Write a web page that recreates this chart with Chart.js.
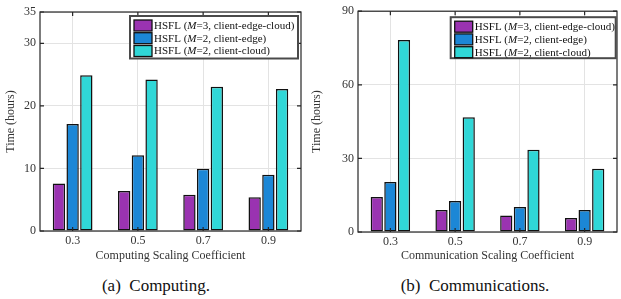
<!DOCTYPE html>
<html>
<head>
<meta charset="utf-8">
<script src="https://cdn.jsdelivr.net/npm/chart.js@4/dist/chart.umd.min.js"></script>
<style>
  html, body { margin: 0; padding: 0; background: #fff; }
  body { width: 621px; height: 299px; position: relative; overflow: hidden; font-family: "Liberation Serif", "DejaVu Serif", serif; }
  .panel { position: absolute; top: 0; height: 270px; }
  .cap { position: absolute; top: 276px; font-size: 17px; color: #111; white-space: nowrap; text-align: center; font-family: "Liberation Serif", "DejaVu Serif", serif; }
</style>
</head>
<body>
<div class="panel" id="pa" style="left:0;width:310px;"><canvas id="ca"></canvas></div>
<div class="panel" id="pb" style="left:310px;width:311px;"><canvas id="cb"></canvas></div>
<div class="cap" style="left:56px;width:200px;">(a)&nbsp; Computing.</div>
<div class="cap" style="left:375px;width:200px;">(b)&nbsp; Communications.</div>
<script>
// ---- data ----
const categories = ['0.3', '0.5', '0.7', '0.9'];
const seriesNames = [
  ['HSFL (', 'M', '=3, client-edge-cloud)'],
  ['HSFL (', 'M', '=2, client-edge)'],
  ['HSFL (', 'M', '=2, client-cloud)']
];
// (a) Computing
const computingM3 = [7.6, 6.4, 5.8, 5.4];
const computingM2Edge = [17.1, 12.1, 9.95, 9.0];
const computingM2Cloud = [24.9, 24.2, 23.05, 22.7];
const computingTicks = [0, 10, 20, 30, 35];
// (b) Communications
const commM3 = [14.3, 9.0, 6.7, 5.7];
const commM2Edge = [20.4, 12.6, 10.2, 9.0];
const commM2Cloud = [78.3, 46.8, 33.5, 25.8];
const commTicks = [0, 30, 60, 90];

const colors = ['#9a33b1', '#1c87d6', '#30d7d7'];
const FONT = '"Liberation Serif", "DejaVu Serif", serif';

const framePlugin = {
  id: 'frame',
  afterDatasetsDraw(chart) {
    const {ctx, chartArea: a, scales} = chart;
    ctx.save();
    ctx.strokeStyle = '#262626';
    ctx.lineWidth = 1.2;
    ctx.strokeRect(a.left, a.top, a.right - a.left, a.bottom - a.top);
    const tl = 4;
    ctx.beginPath();
    scales.x.ticks.forEach((t, i) => {
      const x = scales.x.getPixelForTick(i);
      ctx.moveTo(x, a.top); ctx.lineTo(x, a.top + tl);
      ctx.moveTo(x, a.bottom); ctx.lineTo(x, a.bottom - tl);
    });
    scales.y.ticks.forEach((t) => {
      const y = scales.y.getPixelForValue(t.value);
      ctx.moveTo(a.left, y); ctx.lineTo(a.left + tl, y);
      ctx.moveTo(a.right, y); ctx.lineTo(a.right - tl, y);
    });
    ctx.stroke();
    ctx.restore();
  }
};

const legendPlugin = {
  id: 'boxlegend',
  afterDraw(chart) {
    const o = chart.options.plugins.boxlegend;
    const {ctx, chartArea: a} = chart;
    const L = a.right - o.insetRight - o.width;
    const T = a.top + o.insetTop;
    ctx.save();
    ctx.fillStyle = '#fff';
    ctx.fillRect(L, T, o.width, o.height);
    ctx.strokeStyle = '#4a4a4a';
    ctx.lineWidth = 2;
    ctx.strokeRect(L, T, o.width, o.height);
    const rows = [9.5, 22.2, 35];
    seriesNames.forEach((parts, i) => {
      const cy = T + rows[i];
      ctx.fillStyle = colors[i];
      ctx.fillRect(L + 4, cy - 5.5, 18, 11);
      ctx.strokeStyle = '#111';
      ctx.lineWidth = 1.3;
      ctx.strokeRect(L + 4, cy - 5.5, 18, 11);
      ctx.fillStyle = '#111';
      ctx.textBaseline = 'middle';
      let x = L + 24;
      parts.forEach((p, j) => {
        ctx.font = (j === 1 ? 'italic ' : '') + '11px ' + FONT;
        ctx.fillText(p, x, cy + 0.5);
        x += ctx.measureText(p).width;
      });
    });
    ctx.restore();
  }
};

function makeChart(id, data, ticks, xTitle, geo) {
  const ds = data.map((d, i) => ({
    label: seriesNames[i].join(''),
    data: d,
    backgroundColor: colors[i],
    borderColor: '#111',
    borderWidth: 1.5,
    borderSkipped: false,
    categoryPercentage: 0.63,
    barPercentage: 0.9
  }));
  return new Chart(document.getElementById(id), {
    type: 'bar',
    data: { labels: categories, datasets: ds },
    plugins: [framePlugin, legendPlugin],
    options: {
      responsive: true,
      maintainAspectRatio: false,
      animation: false,
      devicePixelRatio: 1,
      layout: { padding: { left: 0, right: geo.padRight, top: geo.padTop, bottom: 0 } },
      plugins: {
        legend: { display: false },
        tooltip: { enabled: false },
        boxlegend: geo.legend
      },
      scales: {
        x: {
          grid: { offset: false, color: '#e3e3e3', lineWidth: 1, drawTicks: false },
          border: { display: false },
          ticks: { color: '#333', font: { family: FONT, size: 12 }, padding: 3 },
          title: { display: true, text: xTitle, color: '#333', font: { family: FONT, size: 12 }, padding: { top: 0, bottom: 7 } },
          afterFit(s) { s.height = geo.xHeight; }
        },
        y: {
          min: 0,
          max: ticks[ticks.length - 1],
          afterBuildTicks(s) { s.ticks = ticks.map(v => ({ value: v })); },
          grid: { color: '#e3e3e3', lineWidth: 1, drawTicks: false },
          border: { display: false },
          ticks: { color: '#333', font: { family: FONT, size: 12 }, padding: 4 },
          title: { display: true, text: 'Time (hours)', color: '#333', font: { family: FONT, size: 12 }, padding: { top: geo.yTitlePad, bottom: 0 } },
          afterFit(s) { s.width = geo.yWidth; }
        }
      }
    }
  });
}

makeChart('ca', [computingM3, computingM2Edge, computingM2Cloud], computingTicks,
  'Computing Scaling Coefficient',
  { padRight: 9, padTop: 12, xHeight: 39, yWidth: 40, yTitlePad: 4,
    legend: { width: 168, height: 42.5, insetRight: 3, insetTop: 4 } });
makeChart('cb', [commM3, commM2Edge, commM2Cloud], commTicks,
  'Communication Scaling Coefficient',
  { padRight: 4, padTop: 11, xHeight: 38, yWidth: 48, yTitlePad: 0,
    legend: { width: 165, height: 41, insetRight: 1.3, insetTop: 6 } });
</script>
</body>
</html>
